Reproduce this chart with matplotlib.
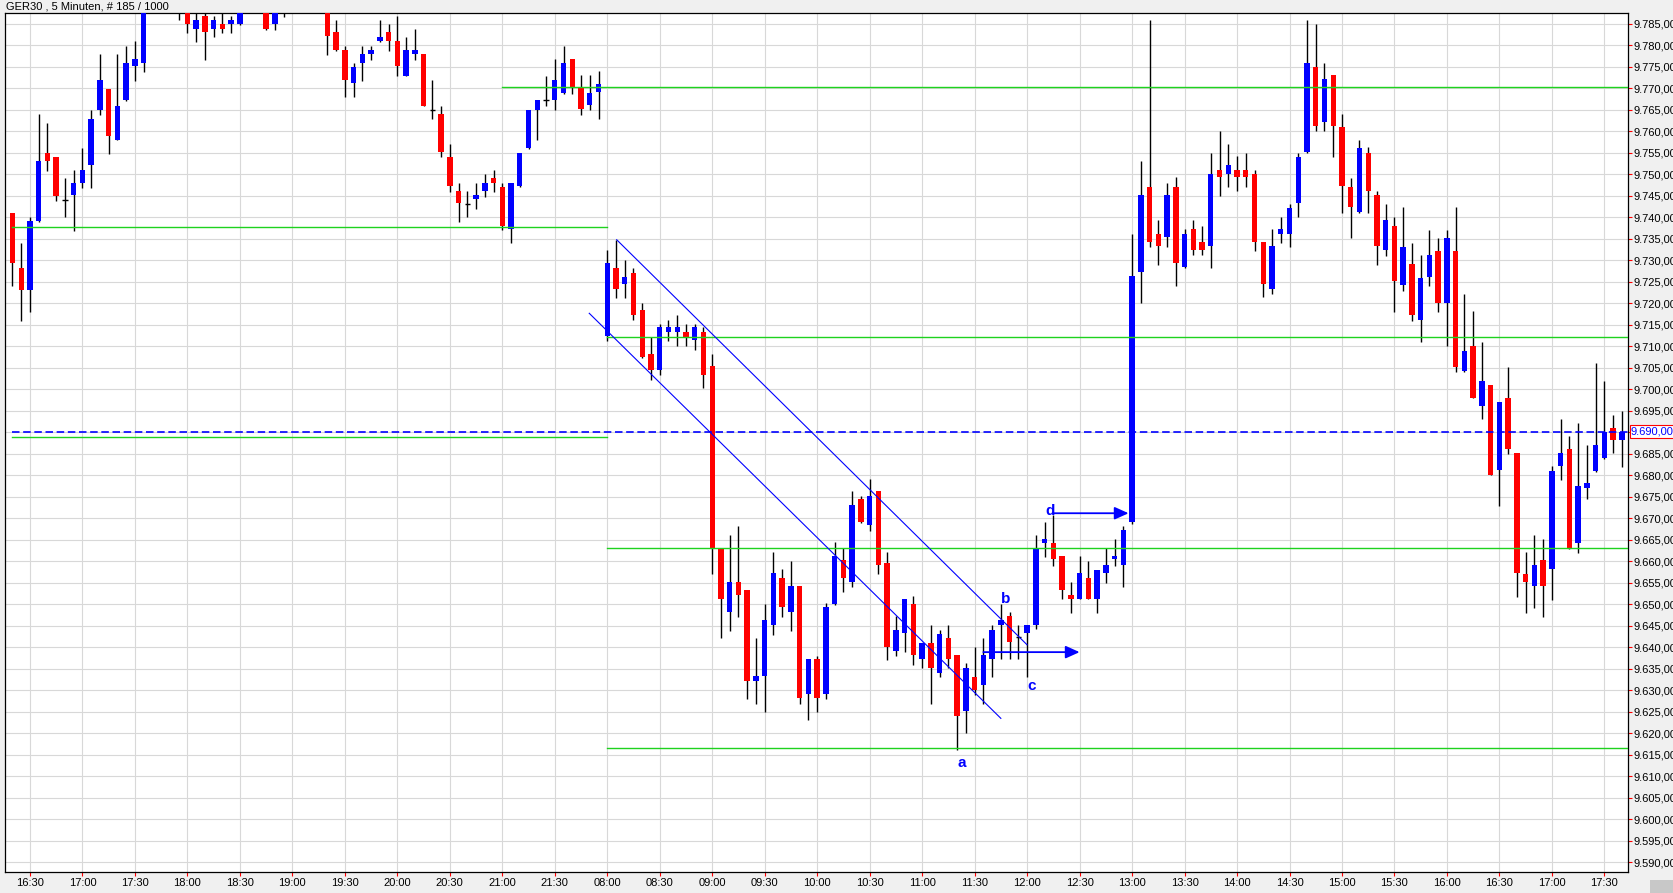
import numpy as np
import matplotlib.pyplot as plt
from matplotlib.patches import Rectangle
from matplotlib.transforms import blended_transform_factory

plt.rcParams['font.family'] = ['Liberation Sans', 'DejaVu Sans']

# GER30 5 min candles, session 1 (16:20-21:55) + session 2 (08:00-17:40)
opens = [9741.0, 9728.3, 9723.1, 9739.2, 9754.9, 9754.1, 9744.0, 9745.1, 9748.1, 9752.1,
         9765.0, 9769.8, 9758.0, 9767.2, 9775.1, 9776.0, 9791.0, 9796.0, 9793.0, 9791.0,
         9790.0, 9783.8, 9786.9, 9783.8, 9785.0, 9785.0, 9785.0, 9789.0, 9792.0, 9790.0,
         9785.0, 9789.0, 9791.0, 9794.0, 9792.0, 9790.0, 9790.0, 9783.0, 9779.0, 9771.2,
         9776.0, 9778.0, 9781.0, 9783.0, 9781.0, 9772.9, 9778.0, 9778.0, 9765.0, 9764.1,
         9754.0, 9746.2, 9743.1, 9744.2, 9746.2, 9749.1, 9747.0, 9737.2, 9747.2, 9756.2,
         9765.0, 9767.2, 9767.2, 9769.0, 9776.9, 9770.0, 9766.1, 9769.1,
         9712.4, 9728.3, 9724.4, 9727.1, 9718.4, 9708.3, 9704.5, 9713.3, 9713.3, 9713.3,
         9711.4, 9713.3, 9705.4, 9663.0, 9648.2, 9655.2, 9653.3, 9632.2, 9633.3, 9645.1,
         9656.2, 9648.2, 9654.2, 9629.2, 9637.2, 9629.2, 9650.2, 9660.3, 9655.2, 9674.4,
         9668.4, 9676.3, 9659.7, 9639.2, 9643.3, 9650.2, 9637.2, 9641.1, 9634.1, 9642.3,
         9638.2, 9625.3, 9633.1, 9631.2, 9637.2, 9645.3, 9647.3, 9642.5, 9643.4, 9645.2,
         9664.3, 9664.3, 9661.2, 9652.1, 9651.3, 9656.2, 9651.3, 9657.4, 9660.5, 9659.1,
         9669.2, 9727.2, 9747.1, 9736.2, 9735.4, 9747.1, 9728.4, 9737.2, 9734.2, 9733.3,
         9751.1, 9750.2, 9751.1, 9751.1, 9750.2, 9734.2, 9723.4, 9736.2, 9736.2, 9743.4,
         9755.2, 9775.0, 9762.1, 9773.0, 9761.1, 9747.1, 9741.2, 9755.0, 9745.1, 9732.5,
         9738.0, 9724.2, 9729.1, 9716.2, 9726.2, 9732.2, 9720.1, 9732.2, 9704.2, 9710.2,
         9696.2, 9701.1, 9681.2, 9698.0, 9685.2, 9657.1, 9654.2, 9660.3, 9658.2, 9682.2,
         9686.2, 9664.3, 9677.1, 9681.0, 9684.1, 9691.0, 9688.2]
highs = [9741.0, 9734.0, 9740.2, 9764.0, 9761.9, 9754.1, 9749.1, 9751.0, 9756.2, 9765.0,
         9778.0, 9769.8, 9778.0, 9779.9, 9781.0, 9795.0, 9799.0, 9801.0, 9798.0, 9798.0,
         9792.0, 9789.0, 9789.0, 9786.9, 9789.0, 9786.9, 9792.0, 9795.0, 9796.0, 9792.0,
         9792.0, 9793.0, 9796.0, 9797.0, 9795.0, 9793.0, 9793.0, 9785.9, 9779.9, 9776.0,
         9779.9, 9779.9, 9785.9, 9785.0, 9786.9, 9782.0, 9783.8, 9778.0, 9772.0, 9765.9,
         9757.1, 9748.0, 9746.2, 9748.0, 9750.1, 9751.0, 9748.0, 9748.0, 9754.9, 9765.0,
         9767.2, 9772.9, 9776.9, 9779.9, 9776.9, 9773.0, 9773.0, 9774.1,
         9732.4, 9734.8, 9730.2, 9728.3, 9720.1, 9712.2, 9715.2, 9716.2, 9717.4, 9715.2,
         9715.2, 9714.5, 9708.3, 9663.0, 9666.2, 9668.3, 9653.3, 9642.3, 9650.2, 9662.2,
         9658.3, 9660.2, 9654.2, 9637.2, 9638.0, 9650.3, 9664.4, 9663.0, 9676.3, 9675.3,
         9679.2, 9676.3, 9662.2, 9647.2, 9651.3, 9652.0, 9641.1, 9645.1, 9644.1, 9645.1,
         9638.2, 9636.3, 9640.2, 9642.3, 9645.1, 9650.2, 9648.2, 9645.1, 9645.2, 9666.1,
         9669.1, 9670.9, 9661.2, 9655.2, 9661.2, 9660.2, 9658.1, 9663.0, 9665.1, 9668.2,
         9736.2, 9753.2, 9786.0, 9739.3, 9748.1, 9749.3, 9737.2, 9739.3, 9738.1, 9755.0,
         9760.2, 9757.1, 9754.2, 9755.0, 9751.1, 9734.2, 9737.2, 9740.1, 9743.1, 9755.0,
         9786.0, 9785.0, 9775.9, 9773.0, 9764.1, 9749.2, 9758.1, 9756.3, 9746.2, 9743.1,
         9740.2, 9742.3, 9734.1, 9731.2, 9737.1, 9735.1, 9737.1, 9742.3, 9722.1, 9718.2,
         9711.1, 9701.1, 9697.1, 9705.2, 9685.2, 9662.2, 9666.1, 9665.1, 9682.2, 9693.1,
         9689.2, 9692.2, 9687.1, 9706.1, 9702.0, 9694.0, 9695.0]
lows = [9724.0, 9715.9, 9717.9, 9739.0, 9750.9, 9743.8, 9740.0, 9736.9, 9746.9, 9746.9,
        9763.8, 9754.8, 9757.9, 9767.0, 9771.8, 9773.9, 9789.0, 9790.0, 9789.0, 9785.8,
        9782.8, 9780.9, 9776.6, 9781.9, 9782.8, 9782.8, 9784.8, 9788.0, 9788.5, 9783.6,
        9783.6, 9786.7, 9788.5, 9789.0, 9788.2, 9788.0, 9777.8, 9778.7, 9767.9, 9767.9,
        9771.7, 9776.6, 9780.9, 9778.7, 9772.8, 9772.8, 9776.6, 9765.8, 9762.8, 9754.0,
        9746.0, 9739.0, 9740.0, 9742.0, 9744.8, 9746.0, 9737.1, 9734.0, 9747.0, 9756.0,
        9757.9, 9765.8, 9765.0, 9768.7, 9768.7, 9763.9, 9764.9, 9762.8,
        9711.2, 9721.3, 9721.3, 9716.1, 9707.2, 9702.1, 9703.3, 9711.2, 9710.0, 9710.0,
        9709.1, 9700.4, 9657.1, 9642.1, 9643.9, 9647.0, 9628.0, 9626.9, 9624.9, 9643.0,
        9647.0, 9643.9, 9626.9, 9623.1, 9624.9, 9628.0, 9649.9, 9653.0, 9654.1, 9669.0,
        9667.1, 9657.1, 9637.0, 9638.0, 9639.0, 9636.0, 9635.2, 9626.9, 9633.1, 9635.2,
        9616.1, 9620.0, 9629.0, 9626.9, 9633.1, 9637.2, 9637.2, 9637.2, 9633.2, 9644.2,
        9661.1, 9658.9, 9651.2, 9648.1, 9651.2, 9651.2, 9648.1, 9655.0, 9658.9, 9654.1,
        9668.8, 9720.0, 9733.1, 9729.0, 9733.1, 9724.1, 9728.2, 9731.2, 9731.2, 9728.2,
        9744.9, 9747.0, 9746.1, 9747.0, 9732.1, 9721.5, 9722.1, 9734.1, 9733.1, 9740.1,
        9755.0, 9760.0, 9760.0, 9754.0, 9741.0, 9735.2, 9741.0, 9741.0, 9729.0, 9731.1,
        9718.0, 9722.9, 9715.9, 9711.0, 9724.1, 9718.0, 9710.1, 9704.0, 9704.0, 9698.0,
        9693.0, 9680.0, 9672.9, 9685.0, 9651.8, 9648.0, 9649.1, 9647.0, 9651.0, 9678.9,
        9662.9, 9662.0, 9674.4, 9680.9, 9683.9, 9685.1, 9682.0]
closes = [9729.3, 9723.1, 9739.2, 9753.1, 9753.1, 9745.0, 9744.0, 9748.0, 9751.0, 9762.9,
          9772.0, 9759.0, 9765.9, 9775.9, 9776.9, 9791.0, 9796.0, 9793.0, 9795.0, 9794.0,
          9785.0, 9785.9, 9783.0, 9785.9, 9783.8, 9785.9, 9789.0, 9792.0, 9790.0, 9783.8,
          9789.0, 9791.0, 9794.0, 9792.0, 9790.0, 9791.0, 9782.1, 9779.0, 9772.0, 9774.9,
          9778.0, 9779.0, 9782.0, 9781.0, 9775.1, 9779.0, 9779.0, 9765.9, 9765.0, 9755.1,
          9747.2, 9743.3, 9743.1, 9745.1, 9748.0, 9748.1, 9738.1, 9748.0, 9754.9, 9765.0,
          9767.2, 9767.2, 9772.0, 9776.0, 9770.0, 9765.1, 9769.0, 9771.1,
          9729.3, 9723.4, 9726.2, 9717.4, 9707.5, 9704.5, 9714.5, 9714.5, 9714.5, 9712.2,
          9714.5, 9703.4, 9663.2, 9651.3, 9655.2, 9652.2, 9632.2, 9633.3, 9646.3, 9657.3,
          9649.5, 9654.2, 9628.3, 9637.2, 9628.3, 9649.4, 9661.3, 9656.2, 9673.2, 9669.2,
          9675.3, 9659.1, 9640.2, 9644.1, 9651.3, 9638.2, 9641.1, 9635.3, 9643.1, 9637.2,
          9624.0, 9635.2, 9630.2, 9638.2, 9644.1, 9646.4, 9641.3, 9642.5, 9645.2, 9663.0,
          9665.1, 9660.5, 9653.3, 9651.3, 9657.2, 9651.3, 9658.1, 9659.1, 9661.2, 9667.3,
          9726.3, 9745.1, 9734.2, 9733.3, 9745.1, 9729.3, 9736.2, 9732.4, 9732.4, 9750.2,
          9749.3, 9752.1, 9749.3, 9749.3, 9734.2, 9724.4, 9733.3, 9737.2, 9742.2, 9754.1,
          9775.9, 9761.2, 9772.1, 9761.2, 9747.2, 9742.4, 9756.2, 9746.2, 9733.3, 9739.3,
          9725.2, 9733.0, 9717.2, 9726.0, 9731.2, 9720.1, 9735.1, 9705.2, 9709.0, 9698.0,
          9702.0, 9680.1, 9697.1, 9686.2, 9657.3, 9655.2, 9659.1, 9654.2, 9681.0, 9685.2,
          9663.1, 9677.5, 9678.3, 9687.1, 9690.2, 9688.2, 9690.2]

# candle times
times = []
for k in range(68):
    m = 16 * 60 + 20 + 5 * k
    times.append('%02d:%02d' % (m // 60, m % 60))
for k in range(117):
    m = 8 * 60 + 5 * k
    times.append('%02d:%02d' % (m // 60, m % 60))

# horizontal support/resistance lines (level, from candle, to candle; None = right edge)
green_levels = [9770.3, 9737.8, 9688.9, 9712.2, 9663.0, 9616.6]
green_start = [56, 0, 0, 68, 68, 68]
green_end = [None, 68, 68, None, None, None]
last_price = 9690.2

# channel lines: (candle, price) start and end
chan_upper = [(69.08, 9734.8), (116.0, 9640.6)]
chan_lower = [(65.94, 9717.7), (113.0, 9623.5)]

# arrows (price, from candle, to candle)
arrow_y = [9638.9, 9671.2]
arrow_x0 = [111.0, 119.0]
arrow_x1 = [122.0, 127.6]

# labels
ann_text = ['a', 'b', 'c', 'd']
ann_x = [108.5, 113.5, 116.5, 118.6]
ann_y = [9612.3, 9650.3, 9630.1, 9670.7]

o = np.array(opens)
h = np.array(highs)
l = np.array(lows)
c = np.array(closes)
x = np.arange(len(o))

W, H = 1674, 893
fig = plt.figure(figsize=(W / 100, H / 100), dpi=100, facecolor='#f0f0f0')
ax = fig.add_axes([5.3 / W, 1 - 872.3 / H, (1628 - 5.3) / W, (872.3 - 12.7) / H])
ax.set_facecolor('white')

xmin, xmax = -0.82, 184.7
ax.set_xlim(xmin, xmax)
ax.set_ylim(9587.7, 9787.6)

# candles
bw = 0.62
ax.vlines(x, l, h, color='black', lw=1.0, zorder=3)
up = c > o + 0.3
dn = c < o - 0.3
dj = ~(up | dn)
ax.bar(x[up], (c - o)[up], bottom=o[up], width=bw, color='#0000ff', linewidth=0,
       antialiased=False, zorder=4)
ax.bar(x[dn], (o - c)[dn], bottom=c[dn], width=bw, color='#ff0000', linewidth=0,
       antialiased=False, zorder=4)
ax.hlines(c[dj], x[dj] - bw / 2, x[dj] + bw / 2, color='black', lw=1.0, zorder=4)

# lines
for lev, s, e in zip(green_levels, green_start, green_end):
    ax.plot([s, xmax if e is None else e], [lev, lev], color='#1ed21e', lw=1.0, zorder=5)
ax.plot([0, xmax], [last_price, last_price], color='#0000ff', lw=1.2,
        dashes=(4.5, 2.2), zorder=5)
for ch in (chan_upper, chan_lower):
    ax.plot([ch[0][0], ch[1][0]], [ch[0][1], ch[1][1]], color='#0000ff', lw=0.8, zorder=5)
for y, a0, a1 in zip(arrow_y, arrow_x0, arrow_x1):
    ax.annotate('', xy=(a1, y), xytext=(a0, y), zorder=6,
                arrowprops=dict(arrowstyle='-|>,head_length=0.6,head_width=0.27',
                                color='#0000ff', lw=1.3, shrinkA=0, shrinkB=0,
                                mutation_scale=14))
for t, tx, ty in zip(ann_text, ann_x, ann_y):
    ax.text(tx, ty, t, color='#0000ff', fontsize=11, fontweight='bold',
            ha='center', va='baseline', zorder=6)

# grid and axes
yt = np.arange(9590, 9786, 5)
ax.set_yticks(yt)
ax.set_yticklabels(['%d.%03d,00' % (v // 1000, v % 1000) for v in yt])
ax.yaxis.tick_right()
tick_pos = [i for i, t in enumerate(times) if t[3:] in ('00', '30')]
ax.set_xticks(tick_pos)
ax.set_xticklabels([times[i] for i in tick_pos])
ax.grid(True, color='#d8d8d8', lw=0.8)
ax.set_axisbelow(True)
ax.tick_params(axis='y', direction='out', length=2.8, width=0.8, color='red',
               pad=1, labelsize=8, labelcolor='black')
ax.tick_params(axis='x', direction='out', length=2.8, width=0.8, color='red',
               pad=1.5, labelsize=8, labelcolor='black')
for sp in ax.spines.values():
    sp.set_color('black')
    sp.set_linewidth(0.9)

# last price box
tr = blended_transform_factory(ax.transAxes, ax.transData)
ax.text(1.0018, last_price, '%d.%03d,00' % (int(last_price) // 1000, int(last_price) % 1000),
        transform=tr, color='#0000ff', fontsize=8, ha='left', va='center', clip_on=False,
        zorder=10, bbox=dict(boxstyle='square,pad=0.12', fc='white', ec='red', lw=0.8))

fig.text(6.5 / W, 1 - 9.5 / H, 'GER30 , 5 Minuten, # 185 / 1000', fontsize=8, va='baseline')
fig.patches.append(Rectangle((1650 / W, 0), 24 / W, 13 / H, transform=fig.transFigure,
                             facecolor='#c8c8c8', edgecolor='none'))

fig.savefig('out.png', dpi=100, facecolor=fig.get_facecolor())
